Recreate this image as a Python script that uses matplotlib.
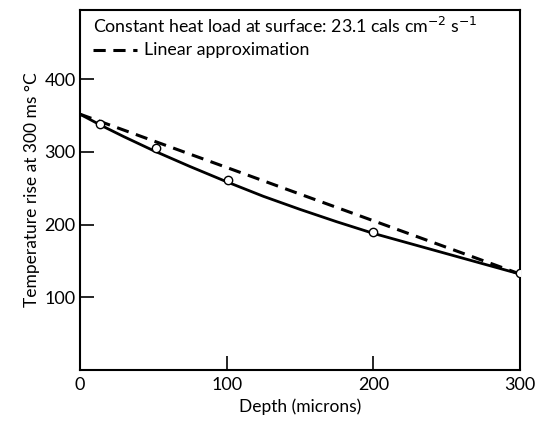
import matplotlib
matplotlib.use("Agg")
import matplotlib.pyplot as plt

# measured points (open circles)
depth_pts = [14, 52, 101, 200, 300]
temp_pts = [338, 305, 261, 190, 134]

# solid curve
depth_curve = [0, 15, 30, 50, 75, 100, 125, 150, 175, 200, 225, 250, 275, 300]
temp_curve = [352, 336, 321, 302, 280, 259, 239, 221, 204, 188, 174, 160, 146, 132]

# linear approximation
depth_lin = [0, 300]
temp_lin = [352, 132]

xticks = [0, 100, 200, 300]
yticks = [100, 200, 300, 400]

plt.rcParams['font.family'] = ['Lato', 'DejaVu Sans']

fig = plt.figure(figsize=(5.43, 4.22), dpi=100)
ax = fig.add_axes([0.147, 0.123, 0.811, 0.853])

ax.plot(depth_curve, temp_curve, color='black', lw=2.0, zorder=2)
ax.plot(depth_lin, temp_lin, color='black', lw=2.2, ls=(0, (4, 2.5)), zorder=2)
ax.plot(depth_pts, temp_pts, 'o', ms=6, mfc='white', mec='black', mew=1.0, zorder=3)

ax.set_xlim(0, 300)
ax.set_ylim(0, 495)
ax.set_xticks(xticks)
ax.set_yticks(yticks)
ax.tick_params(direction='in', length=10, width=1.2, labelsize=13, pad=3)
ax.tick_params(axis='x', pad=5)
for s in ax.spines.values():
    s.set_linewidth(1.5)

ax.set_xlabel('Depth (microns)', fontsize=12.5, labelpad=4)
ax.set_ylabel('Temperature rise at 300 ms °C', fontsize=12.5, labelpad=3)

ax.text(0.03, 0.955, 'Constant heat load at surface: 23.1 cals cm$^{-2}$ s$^{-1}$',
        transform=ax.transAxes, fontsize=12.8, va='center', ha='left')
ax.plot([0.03, 0.13], [0.89, 0.89], transform=ax.transAxes, color='black',
        lw=2.2, ls=(0, (4, 2.5)))
ax.text(0.145, 0.89, 'Linear approximation', transform=ax.transAxes,
        fontsize=12.8, va='center', ha='left')

fig.savefig('out.png', dpi=100)
